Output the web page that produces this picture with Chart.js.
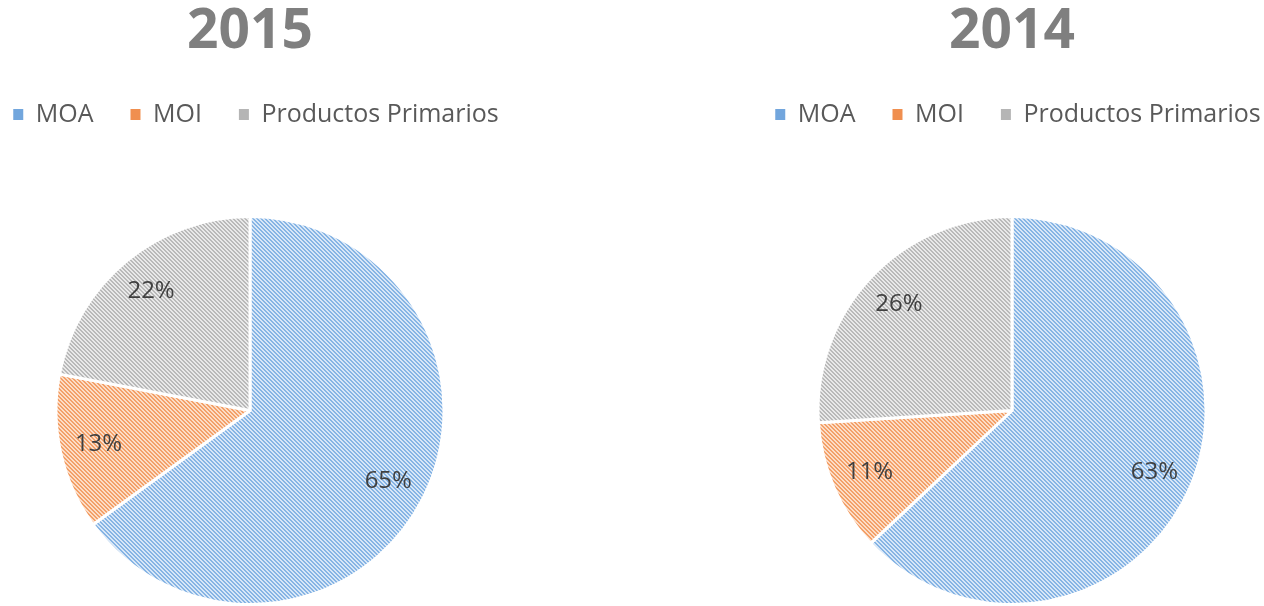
<!DOCTYPE html>
<html>
<head>
<meta charset="utf-8">
<script src="https://cdn.jsdelivr.net/npm/chart.js@4.4.0/dist/chart.umd.min.js"></script>
<style>
  html, body { margin: 0; padding: 0; background: #ffffff; }
  body { width: 1264px; height: 606px; position: relative; overflow: hidden; }
  .wrap { position: absolute; top: 0; height: 606px; width: 600px; }
  #w1 { left: -50px; }
  #w2 { left: 712px; }
</style>
</head>
<body>
<div class="wrap" id="w1"><canvas id="c2015" width="600" height="606"></canvas></div>
<div class="wrap" id="w2"><canvas id="c2014" width="600" height="606"></canvas></div>
<script>
const categories = ['MOA', 'MOI', 'Productos Primarios'];
const values2015 = [65, 13, 22];
const values2014 = [63, 11, 26];
const titles = ['2015', '2014'];

const stripeColors = ['#86B4E4', '#F3A068', '#B9B9B9'];
const lightColors = ['#D8E7F7', '#FCDDC7', '#E9E9E9'];
const legendColors = ['#72A6DD', '#F08F4F', '#B5B5B5'];

function makePattern(stripe, light) {
  const size = 4;
  const c = document.createElement('canvas');
  c.width = size; c.height = size;
  const g = c.getContext('2d');
  g.fillStyle = light;
  g.fillRect(0, 0, size, size);
  g.fillStyle = stripe;
  for (let y = 0; y < size; y++) {
    for (let x = 0; x < size; x++) {
      const d = ((x - y) % size + size) % size;
      if (d < 2) g.fillRect(x, y, 1, 1);
    }
  }
  return g.createPattern(c, 'repeat');
}
const patterns = stripeColors.map((s, i) => makePattern(s, lightColors[i]));

const FONT = "'Open Sans', 'DejaVu Sans', sans-serif";

const labelPlugin = {
  id: 'pctLabels',
  afterDatasetsDraw(chart) {
    const ctx = chart.ctx;
    const meta = chart.getDatasetMeta(0);
    const data = chart.data.datasets[0].data;
    ctx.save();
    ctx.font = '24px ' + FONT;
    ctx.fillStyle = '#404040';
    ctx.textAlign = 'center';
    ctx.textBaseline = 'middle';
    meta.data.forEach((arc, i) => {
      const p = arc.getProps(['x', 'y', 'startAngle', 'endAngle', 'outerRadius'], true);
      const mid = (p.startAngle + p.endAngle) / 2;
      const r = p.outerRadius * 0.8;
      ctx.fillText(data[i] + '%', p.x + Math.cos(mid) * r, p.y + Math.sin(mid) * r);
    });
    ctx.restore();
  }
};

const legendSpacer = {
  id: 'legendSpacer',
  beforeInit(chart) {
    const orig = chart.legend.fit;
    chart.legend.fit = function () {
      orig.call(this);
      this.height = 150;
    };
  },
  afterLayout(chart) {
    chart.legend.left += 6;
    chart.legend.right += 6;
  }
};

function makeChart(id, values, title) {
  return new Chart(document.getElementById(id), {
    type: 'pie',
    data: {
      labels: categories,
      datasets: [{
        data: values,
        backgroundColor: patterns,
        borderColor: '#ffffff',
        borderWidth: 3
      }]
    },
    options: {
      responsive: false,
      animation: false,
      layout: { padding: 0 },
      plugins: {
        title: {
          display: true,
          text: title,
          color: '#7F7F7F',
          font: { family: FONT, size: 55, weight: 'bold', lineHeight: 1.0 },
          padding: { top: 5, bottom: 5 }
        },
        legend: {
          display: true,
          position: 'top',
          labels: {
            color: '#595959',
            font: { family: FONT, size: 25 },
            boxWidth: 10,
            boxHeight: 11,
            padding: 37,
            generateLabels(chart) {
              const items = Chart.overrides.pie.plugins.legend.labels.generateLabels(chart);
              items.forEach((it, i) => {
                it.lineWidth = 0;
                it.strokeStyle = 'rgba(0,0,0,0)';
                it.fillStyle = legendColors[i];
              });
              return items;
            }
          }
        },
        tooltip: { enabled: false }
      }
    },
    plugins: [labelPlugin, legendSpacer]
  });
}

makeChart('c2015', values2015, titles[0]);
makeChart('c2014', values2014, titles[1]);
</script>
</body>
</html>
